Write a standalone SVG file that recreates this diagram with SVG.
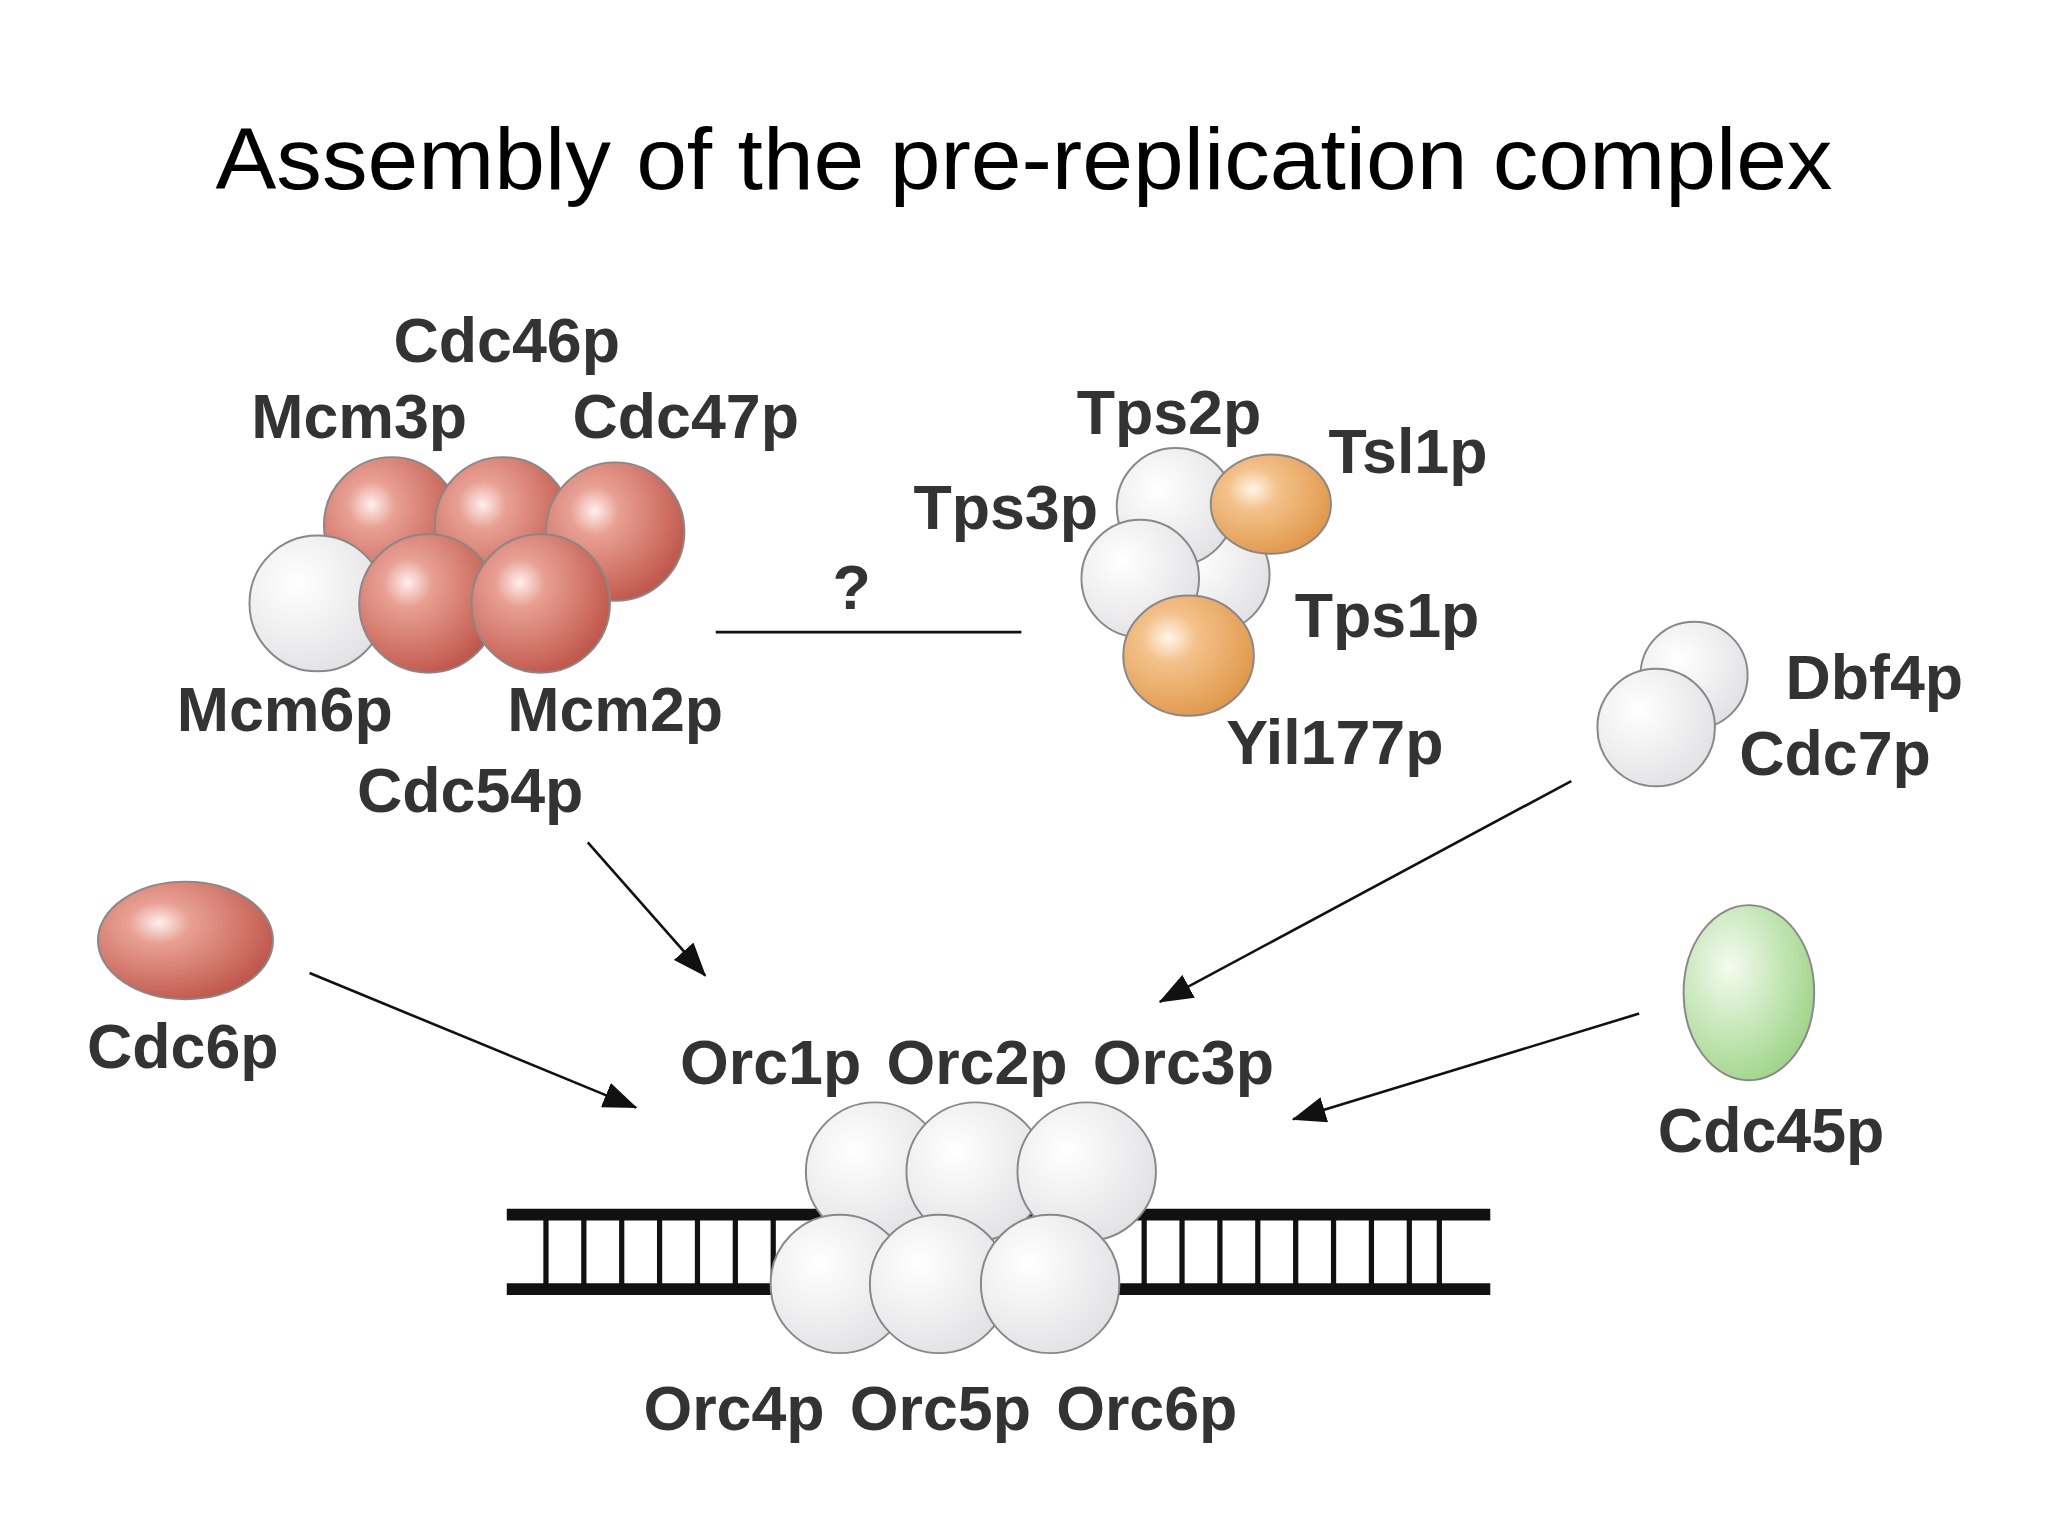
<svg xmlns="http://www.w3.org/2000/svg" width="2048" height="1536" viewBox="0 0 2048 1536">
<defs>
<radialGradient id="red" cx="0.35" cy="0.35" r="0.7"><stop offset="0" stop-color="#fdf0ee"/><stop offset="0.25" stop-color="#e8a093"/><stop offset="1" stop-color="#c0564a"/></radialGradient>
<radialGradient id="wht" cx="0.35" cy="0.35" r="0.7"><stop offset="0" stop-color="#ffffff"/><stop offset="1" stop-color="#e2e2e4"/></radialGradient>
<radialGradient id="org" cx="0.35" cy="0.35" r="0.7"><stop offset="0" stop-color="#fff6e8"/><stop offset="0.3" stop-color="#f3c18a"/><stop offset="1" stop-color="#e0984a"/></radialGradient>
<radialGradient id="grn" cx="0.35" cy="0.35" r="0.7"><stop offset="0" stop-color="#f4fbef"/><stop offset="1" stop-color="#9fd58a"/></radialGradient>
<marker id="ah" viewBox="0 0 26 20" refX="25" refY="10" markerWidth="26" markerHeight="20" markerUnits="userSpaceOnUse" orient="auto"><path d="M0,0 L26,10 L0,20 z" fill="#111"/></marker>
<style>
.t{font-family:"Liberation Sans",Arial,sans-serif;font-weight:bold;font-size:48px;fill:#333;text-anchor:middle}
.s{stroke:#888;stroke-width:1.5}
.c{stroke:#111;stroke-width:2;fill:none}
</style>
</defs>
<rect width="2048" height="1536" fill="#fff"/>
<g transform="scale(1.30612)">
<text x="784" y="145" font-family="Liberation Sans,Arial,sans-serif" font-size="66" text-anchor="middle" textLength="1238" lengthAdjust="spacingAndGlyphs" fill="#000">Assembly of the pre-replication complex</text>
<g id="mcm">
<circle cx="300" cy="402" r="52" fill="url(#red)" class="s"/>
<circle cx="385" cy="402" r="52" fill="url(#red)" class="s"/>
<circle cx="471" cy="407" r="53" fill="url(#red)" class="s"/>
<circle cx="243" cy="462" r="52" fill="url(#wht)" class="s"/>
<circle cx="328" cy="462" r="53" fill="url(#red)" class="s"/>
<circle cx="414" cy="462" r="53" fill="url(#red)" class="s"/>
<text class="t" x="388" y="277">Cdc46p</text>
<text class="t" x="275" y="335">Mcm3p</text>
<text class="t" x="525" y="335">Cdc47p</text>
<text class="t" x="218" y="560">Mcm6p</text>
<text class="t" x="471" y="560">Mcm2p</text>
<text class="t" x="360" y="622">Cdc54p</text>
</g>
<g id="tps">
<circle cx="928" cy="440" r="44" fill="url(#wht)" class="s"/>
<circle cx="900" cy="388" r="45" fill="url(#wht)" class="s"/>
<ellipse cx="973" cy="386" rx="46" ry="38" fill="url(#org)" class="s"/>
<circle cx="873" cy="443" r="45" fill="url(#wht)" class="s"/>
<ellipse cx="910" cy="502" rx="50" ry="46" fill="url(#org)" class="s"/>
<text class="t" x="895" y="332">Tps2p</text>
<text class="t" x="1078" y="362">Tsl1p</text>
<text class="t" x="770" y="405">Tps3p</text>
<text class="t" x="1062" y="488">Tps1p</text>
<text class="t" x="1022" y="585">Yil177p</text>
</g>
<g id="dbf">
<circle cx="1297" cy="517" r="41" fill="url(#wht)" class="s"/>
<circle cx="1268" cy="557" r="45" fill="url(#wht)" class="s"/>
<text class="t" x="1435" y="535">Dbf4p</text>
<text class="t" x="1405" y="593">Cdc7p</text>
</g>
<g id="cdc6">
<ellipse cx="142" cy="720" rx="67" ry="45" fill="url(#red)" class="s"/>
<text class="t" x="140" y="818">Cdc6p</text>
</g>
<g id="cdc45">
<ellipse cx="1339" cy="760" rx="50" ry="67" fill="url(#grn)" class="s"/>
<text class="t" x="1356" y="882">Cdc45p</text>
</g>
<g id="dna" stroke="#111">
<line x1="388" y1="930" x2="1141" y2="930" stroke-width="9"/>
<line x1="388" y1="987" x2="1141" y2="987" stroke-width="9"/>
<path stroke-width="4" d="M418 930V987M447 930V987M476 930V987M505 930V987M534 930V987M563 930V987M592 930V987M876 930V987M905 930V987M934 930V987M963 930V987M992 930V987M1021 930V987M1050 930V987M1079 930V987M1102 930V987"/>
</g>
<g id="orc">
<circle cx="670" cy="897" r="53" fill="url(#wht)" class="s"/>
<circle cx="747" cy="897" r="53" fill="url(#wht)" class="s"/>
<circle cx="832" cy="897" r="53" fill="url(#wht)" class="s"/>
<circle cx="643" cy="983" r="53" fill="url(#wht)" class="s"/>
<circle cx="719" cy="983" r="53" fill="url(#wht)" class="s"/>
<circle cx="804" cy="983" r="53" fill="url(#wht)" class="s"/>
<text class="t" x="590" y="830">Orc1p</text>
<text class="t" x="748" y="830">Orc2p</text>
<text class="t" x="906" y="830">Orc3p</text>
<text class="t" x="562" y="1095">Orc4p</text>
<text class="t" x="720" y="1095">Orc5p</text>
<text class="t" x="878" y="1095">Orc6p</text>
</g>
<g id="connectors">
<line class="c" x1="548" y1="484" x2="782" y2="484"/>
<text class="t" x="652" y="466" font-size="40">?</text>
<line class="c" x1="450" y1="645" x2="540" y2="747" marker-end="url(#ah)"/>
<line class="c" x1="1203" y1="598" x2="888" y2="767" marker-end="url(#ah)"/>
<line class="c" x1="237" y1="745" x2="487" y2="848" marker-end="url(#ah)"/>
<line class="c" x1="1255" y1="776" x2="990" y2="857" marker-end="url(#ah)"/>
</g>
</g>
</svg>
